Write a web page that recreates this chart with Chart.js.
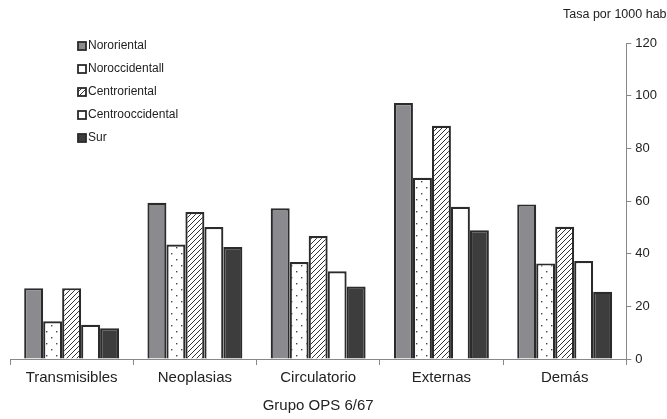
<!DOCTYPE html>
<html>
<head>
<meta charset="utf-8">
<script src="https://cdn.jsdelivr.net/npm/chart.js@4/dist/chart.umd.min.js"></script>
<style>
  html, body { margin: 0; padding: 0; background: #fff; }
  #wrap { width: 667px; height: 419px; position: relative; }
</style>
</head>
<body>
<div id="wrap"><canvas id="chart"></canvas></div>
<script>
(function() {
'use strict';

// data
const categories = ['Transmisibles', 'Neoplasias', 'Circulatorio', 'Externas', 'Demás'];
const regions = ['Nororiental', 'Noroccidentall', 'Centroriental', 'Centrooccidental', 'Sur'];
const nororiental = [26.9, 59.3, 57.2, 97.2, 58.7];
const noroccidental = [14.3, 43.5, 36.8, 68.8, 36.3];
const centroriental = [26.9, 55.8, 46.7, 88.6, 50.2];
const centrooccidental = [13.0, 50.1, 33.3, 57.8, 37.2];
const sur = [11.7, 42.5, 27.5, 48.9, 25.5];
const yTicks = [0, 20, 40, 60, 80, 100, 120];

const FONT = "'Liberation Sans', Arial, sans-serif";

function dotPattern() {
    const c = document.createElement('canvas');
    c.width = 10; c.height = 12;
    const g = c.getContext('2d');
    g.fillStyle = '#fff';
    g.fillRect(0, 0, 10, 12);
    g.fillStyle = '#444';
    g.fillRect(1, 1, 1.4, 1.4);
    g.fillRect(6, 7, 1.4, 1.4);
    return g.createPattern(c, 'repeat');
}

function hatchPattern() {
    const c = document.createElement('canvas');
    c.width = 5; c.height = 5;
    const g = c.getContext('2d');
    g.fillStyle = '#fff';
    g.fillRect(0, 0, 5, 5);
    g.strokeStyle = '#333';
    g.lineWidth = 1;
    g.beginPath();
    g.moveTo(-1, 6); g.lineTo(6, -1);
    g.moveTo(-1, 1); g.lineTo(1, -1);
    g.moveTo(4, 6); g.lineTo(6, 4);
    g.stroke();
    return g.createPattern(c, 'repeat');
}

const fills = ['#8b8b8f', dotPattern(), hatchPattern(), '#ffffff', '#3d3d3d'];
const series = [nororiental, noroccidental, centroriental, centrooccidental, sur];

const datasets = regions.map((name, i) => ({
    label: name,
    data: series[i],
    backgroundColor: fills[i],
    borderColor: '#2b2b2b',
    borderWidth: 2.2,
    borderSkipped: 'bottom',
    categoryPercentage: 0.77,
    barPercentage: 1.0
}));

// legend drawn inside the plot, top left
const insideLegend = {
    id: 'insideLegend',
    afterDraw(chart) {
        const ctx = chart.ctx;
        ctx.save();
        ctx.font = '12px ' + FONT;
        ctx.textBaseline = 'middle';
        chart.data.datasets.forEach((ds, i) => {
            const y = 46 + i * 23;
            ctx.fillStyle = ds.backgroundColor;
            ctx.fillRect(78, y - 4, 8, 8);
            ctx.strokeStyle = '#2b2b2b';
            ctx.lineWidth = 1.8;
            ctx.strokeRect(78, y - 4, 8, 8);
            ctx.fillStyle = '#222';
            ctx.fillText(ds.label, 88, y);
        });
        ctx.restore();
    }
};

const unitTitle = {
    id: 'unitTitle',
    afterDraw(chart) {
        const ctx = chart.ctx;
        ctx.save();
        ctx.font = '12.5px ' + FONT;
        ctx.fillStyle = '#222';
        ctx.textBaseline = 'middle';
        ctx.fillText('Tasa por 1000 hab', 563, 15);
        ctx.restore();
    }
};

new Chart(document.getElementById('chart'), {
    type: 'bar',
    data: { labels: categories, datasets: datasets },
    options: {
        responsive: true,
        maintainAspectRatio: false,
        animation: false,
        layout: { padding: { top: 43, left: 10, right: 6, bottom: 4 } },
        plugins: {
            legend: { display: false },
            tooltip: { enabled: false }
        },
        scales: {
            x: {
                offset: true,
                grid: {
                    display: true,
                    offset: true,
                    drawOnChartArea: false,
                    drawTicks: true,
                    tickLength: 6,
                    color: '#888'
                },
                border: { display: true, color: '#888', width: 1 },
                ticks: {
                    color: '#222',
                    font: { family: FONT, size: 15 },
                    padding: 4
                },
                title: {
                    display: true,
                    text: 'Grupo OPS 6/67',
                    color: '#222',
                    font: { family: FONT, size: 15 },
                    padding: { top: 6, bottom: 0 }
                }
            },
            y: {
                position: 'right',
                min: 0,
                max: 120,
                afterBuildTicks(axis) {
                    axis.ticks = yTicks.map(v => ({ value: v }));
                },
                grid: {
                    display: true,
                    drawOnChartArea: false,
                    drawTicks: true,
                    tickLength: 5,
                    color: '#888'
                },
                border: { display: true, color: '#888', width: 1 },
                ticks: {
                    color: '#222',
                    font: { family: FONT, size: 13 },
                    padding: 4
                }
            }
        }
    },
    plugins: [insideLegend, unitTitle]
});

})();
</script>
</body>
</html>
